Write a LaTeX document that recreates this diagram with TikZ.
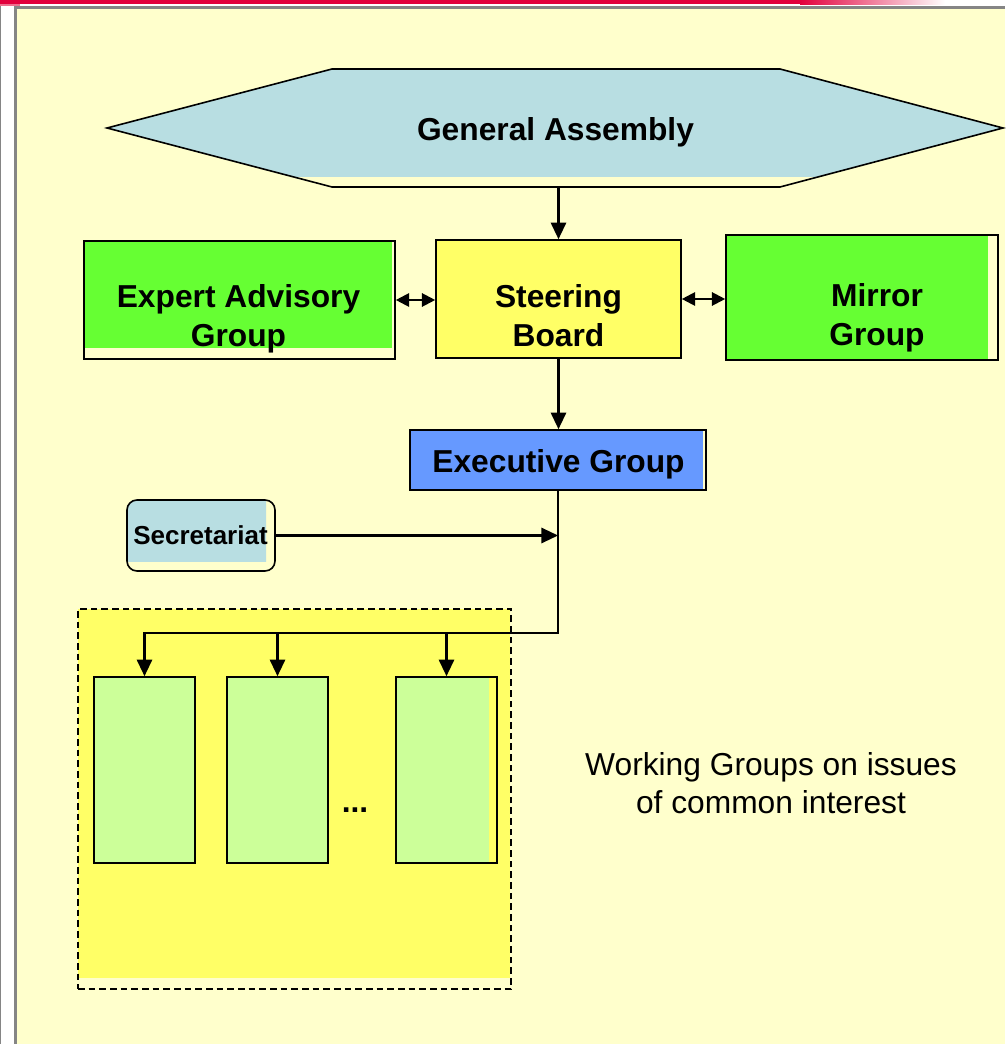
\documentclass[tikz,border=0pt]{standalone}
\usepackage{fontspec}
\setmainfont{Liberation Sans}
\usetikzlibrary{arrows.meta,fit}
\definecolor{bgyel}{HTML}{FFFFCC}
\definecolor{framegray}{HTML}{858585}
\definecolor{topred}{HTML}{E2003C}
\definecolor{pinkish}{HTML}{EE6F8C}
\definecolor{lblue}{HTML}{B8DEE2}
\definecolor{brgreen}{HTML}{66FF33}
\definecolor{boxyel}{HTML}{FFFF66}
\definecolor{exblue}{HTML}{6699FF}
\definecolor{lgreen}{HTML}{CCFF99}
\begin{document}
\begin{tikzpicture}[x=0.75pt,y=-0.75pt,
  boxline/.style={draw=black, line width=1.2pt, inner sep=0pt},
  lbl/.style={font=\fontsize{23.8}{28.5}\selectfont\bfseries, align=center, anchor=base, inner sep=0pt},
  plainlbl/.style={font=\fontsize{23.8}{28}\selectfont, align=center, anchor=base, inner sep=0pt},
  conn/.style={line width=1.6pt},
  arr/.style={conn, -{Triangle[length=12.5pt,width=11.5pt]}},
  darr/.style={conn, {Triangle[length=10pt,width=10pt]}-{Triangle[length=10pt,width=10pt]}},
]
\useasboundingbox (0,0) rectangle (1005,1044);
% background and frame
\fill[white] (0,0) rectangle (1005,1044);
\fill[framegray] (0,6) rectangle (1,1044);
\fill[framegray] (14,6) rectangle (1005,9.5);
\fill[framegray] (14,6) rectangle (16.5,1044);
\fill[bgyel] (16.5,9.5) rectangle (1005,1044);
\fill[topred] (0,0) rectangle (800,4.5);
\shade[left color=topred, right color=white] (800,0) rectangle (945,4.5);
\fill[pinkish] (0,4.5) rectangle (20,6);

% General Assembly hexagon
\coordinate (h1) at (107,128);
\coordinate (h2) at (332,69);
\coordinate (h3) at (780,69);
\coordinate (h4) at (1003,128);
\coordinate (h5) at (780,187);
\coordinate (h6) at (332,187);
\begin{scope}
  \clip (0,0) rectangle (1005,177);
  \fill[lblue] (h1) -- (h2) -- (h3) -- (h4) -- (h5) -- (h6) -- cycle;
\end{scope}
\draw[line width=1.2pt] (h1) -- (h2) -- (h3) -- (h4) -- (h5) -- (h6) -- cycle;
\node[fit=(h1)(h2)(h4)(h5), inner sep=0pt] (ga) {};
\node[lbl] (gat) at (555.5,141) {General Assembly};

% Expert Advisory Group
\fill[brgreen] (84,241) rectangle (392,348);
\node[boxline, fit={(84,241)(395,359)}] (ea) {};
\node[lbl] (eat) at (238.5,346) {Expert Advisory\\Group};

% Steering Board
\fill[boxyel] (436,240) rectangle (681,358);
\node[boxline, fit={(436,240)(681,358)}] (sb) {};
\node[lbl] (sbt) at (558.5,346) {Steering\\Board};

% Mirror Group
\fill[brgreen] (726,235) rectangle (988,360);
\node[boxline, fit={(726,235)(998,360)}] (mg) {};
\node[lbl] (mgt) at (877,345) {Mirror\\Group};

% Executive Group
\fill[exblue] (410,430) rectangle (703,490);
\node[boxline, fit={(410,430)(706,490)}] (eg) {};
\node[lbl] (egt) at (558.5,472) {Executive Group};

% Secretariat
\begin{scope}
  \clip (0,0) rectangle (266,561);
  \fill[lblue, rounded corners=7.5pt] (127,500) rectangle (275,571);
\end{scope}
\node[boxline, rounded corners=7.5pt, fit={(127,500)(275,571)}] (sec) {};
\node[lbl, font=\fontsize{19.5}{23}\selectfont\bfseries] (sect) at (200.5,544) {Secretariat};

% Working groups area
\fill[boxyel] (78,609) rectangle (510,978);
\node[draw=black, line width=1.2pt, dash pattern=on 5pt off 3pt, inner sep=0pt, fit={(78,609)(511,989)}] (wg) {};

\fill[lgreen] (94,677) rectangle (195,863);
\node[boxline, fit={(94,677)(195,863)}] (w1) {};
\fill[lgreen] (227,677) rectangle (328,863);
\node[boxline, fit={(227,677)(328,863)}] (w2) {};
\fill[lgreen] (396,677) rectangle (489,863);
\node[boxline, fit={(396,677)(497,863)}] (w3) {};
\node[lbl] (dots) at (355,812) {...};

\node[plainlbl] (wgt) at (771,813) {Working Groups on issues\\of common interest};

% connectors
\draw[arr] (ga.south -| sb.north) -- (sb.north);
\draw[darr] (ea.east) -- (ea.east -| sb.west);
\draw[darr] (sb.east) -- (sb.east -| mg.west);
\draw[arr] (sb.south) -- (sb.south |- eg.north);
\coordinate (jy) at (0,633);
\coordinate (j) at (eg.south |- jy);
\draw[arr] (eg.south) -- (j) -| (w1.north);
\draw[arr] (j -| w2.north) -- (w2.north);
\draw[arr] (j -| w3.north) -- (w3.north);
\draw[arr] (sec.east) -- (sec.east -| eg.south);
\end{tikzpicture}
\end{document}
